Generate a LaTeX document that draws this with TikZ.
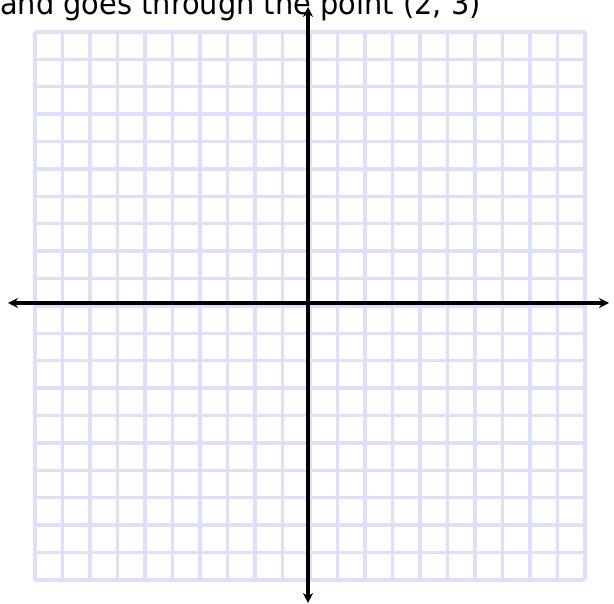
\documentclass[tikz,border=0pt]{standalone}
\usepackage{fontspec}
\setmainfont{DejaVu Sans}
\usetikzlibrary{arrows.meta}
\definecolor{gridcol}{RGB}{222,222,255}
\tikzset{
  gridline/.style={draw=gridcol, line width=3.4pt},
  axisline/.style={draw=black, line width=3.6pt, {Stealth[length=10pt,width=10pt]}-{Stealth[length=10pt,width=10pt]}},
  title/.style={anchor=base west, inner sep=0pt, font=\fontsize{31}{34}\selectfont}
}
\begin{document}
\begin{tikzpicture}[x=1pt,y=1pt]
\useasboundingbox (0,0) rectangle (614,604);
\clip (0,0) rectangle (614,604);
% grid
\foreach \i in {0,...,20} {
  \draw[gridline] ({35+\i*27.5},24) -- ({35+\i*27.5},572);
  \draw[gridline] (35,{24+\i*27.4}) -- (585,{24+\i*27.4});
}
% axes
\coordinate (xl) at (8,301);
\coordinate (xr) at (609,301);
\coordinate (yt) at (308,597);
\coordinate (yb) at (308,1);
\draw[axisline] (xl) -- (xr);
\draw[axisline] (yb) -- (yt);
% title
\node[title] (t) at (0,589) {\scalebox{0.93}[1]{and goes through the point (2, 3)}};
\end{tikzpicture}
\end{document}
